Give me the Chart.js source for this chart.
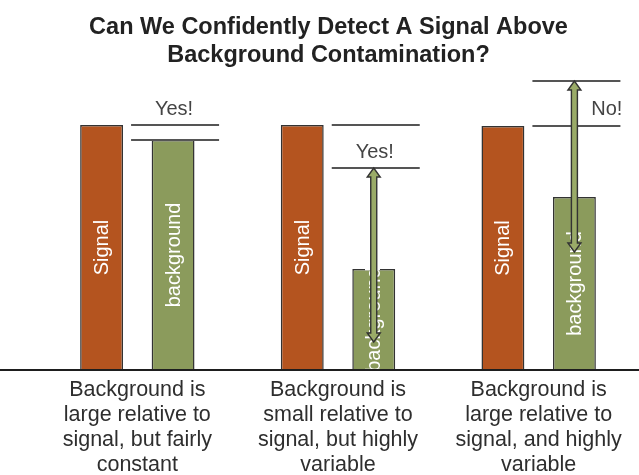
<!DOCTYPE html>
<html>
<head>
<meta charset="utf-8">
<script src="https://cdn.jsdelivr.net/npm/chart.js@4"></script>
<style>
  html, body { margin: 0; padding: 0; background: #fff; }
  #wrap { width: 639px; height: 475px; }
</style>
</head>
<body>
<div id="wrap"><canvas id="chart"></canvas></div>
<script>
// data (units: arbitrary signal level)
const categories = [
  ['Background is', 'large relative to', 'signal, but fairly', 'constant'],
  ['Background is', 'small relative to', 'signal, but highly', 'variable'],
  ['Background is', 'large relative to', 'signal, and highly', 'variable']
];
const signal = [245, 245, 244];
const background = [230, 101, 173];
const bgLow = [null, 28, 118];    // bottom of background variability
const bgHigh = [null, 202, 289];  // top of background variability
const verdicts = ['Yes!', 'Yes!', 'No!'];
const titleLines = ['Can We Confidently Detect A Signal Above', 'Background Contamination?'];

const FONT = '"Liberation Sans", Arial, sans-serif';

function drawArrow(ctx, x, yTop, yBot) {
  const hw = 6.5, sw = 3, hl = 9;
  ctx.beginPath();
  ctx.moveTo(x, yTop);
  ctx.lineTo(x + hw, yTop + hl);
  ctx.lineTo(x + sw, yTop + hl);
  ctx.lineTo(x + sw, yBot - hl);
  ctx.lineTo(x + hw, yBot - hl);
  ctx.lineTo(x, yBot);
  ctx.lineTo(x - hw, yBot - hl);
  ctx.lineTo(x - sw, yBot - hl);
  ctx.lineTo(x - sw, yTop + hl);
  ctx.lineTo(x - hw, yTop + hl);
  ctx.closePath();
  ctx.fillStyle = '#9aab68';
  ctx.fill();
  ctx.lineWidth = 1.4;
  ctx.strokeStyle = '#333';
  ctx.stroke();
}

const annotate = {
  id: 'annotate',
  afterDatasetsDraw(chart) {
    const ctx = chart.ctx;
    const ys = chart.scales.y;
    const sigMeta = chart.getDatasetMeta(0);
    const bgMeta = chart.getDatasetMeta(1);

    // rotated names inside the bars
    [sigMeta, bgMeta].forEach((meta, d) => {
      meta.data.forEach(bar => {
        const p = bar.getProps(['x', 'y', 'base', 'width'], true);
        ctx.save();
        ctx.beginPath();
        ctx.rect(p.x - p.width / 2, p.y, p.width, p.base - p.y);
        ctx.clip();
        ctx.translate(p.x, (p.y + p.base) / 2);
        ctx.rotate(-Math.PI / 2);
        ctx.fillStyle = '#fff';
        ctx.font = '20px ' + FONT;
        ctx.textAlign = 'center';
        ctx.textBaseline = 'middle';
        ctx.fillText(chart.data.datasets[d].label, 0, 1);
        ctx.restore();
      });
    });

    ctx.save();
    bgMeta.data.forEach((bar, i) => {
      const bx = bar.x;
      const top = bgHigh[i] !== null ? bgHigh[i] : background[i];
      const lines = [signal[i], top].map(v => ys.getPixelForValue(v));

      ctx.strokeStyle = '#555';
      ctx.lineWidth = 2;
      lines.forEach(py => {
        ctx.beginPath();
        ctx.moveTo(bx - 42, py);
        ctx.lineTo(bx + 46, py);
        ctx.stroke();
      });

      if (bgLow[i] !== null) {
        drawArrow(ctx, bx, ys.getPixelForValue(bgHigh[i]), ys.getPixelForValue(bgLow[i]));
      }

      const hi = Math.min(...lines), lo = Math.max(...lines);
      const ty = lo - hi < 30 ? hi - 16 : (hi + lo) / 2 + 6;
      const crosses = bgLow[i] !== null && ys.getPixelForValue(bgHigh[i]) < ty;
      ctx.font = '20px ' + FONT;
      ctx.fillStyle = '#444';
      ctx.textBaseline = 'middle';
      if (crosses) {
        ctx.textAlign = 'right';
        ctx.fillText(verdicts[i], bx + 48, ty);
      } else {
        ctx.textAlign = 'center';
        ctx.fillText(verdicts[i], bx + 1, ty);
      }
    });
    ctx.restore();
  },
  afterDraw(chart) {
    const ctx = chart.ctx;
    const y0 = chart.scales.y.getPixelForValue(0);
    ctx.save();
    ctx.strokeStyle = '#1e1e1e';
    ctx.lineWidth = 2.2;
    ctx.beginPath();
    ctx.moveTo(0, y0);
    ctx.lineTo(chart.width, y0);
    ctx.stroke();
    ctx.restore();
  }
};

new Chart(document.getElementById('chart'), {
  type: 'bar',
  data: {
    labels: categories,
    datasets: [{
      label: 'Signal',
      data: signal,
      backgroundColor: '#b4541f',
      borderColor: '#333',
      borderWidth: 1.5,
      categoryPercentage: 0.7125,
      barPercentage: 0.6
    }, {
      label: 'background',
      data: background,
      backgroundColor: '#8b9b5c',
      borderColor: '#333',
      borderWidth: 1.5,
      categoryPercentage: 0.7125,
      barPercentage: 0.6
    }]
  },
  options: {
    responsive: true,
    maintainAspectRatio: false,
    animation: false,
    devicePixelRatio: 1,
    layout: { padding: { left: 18, right: 0, top: 0, bottom: 0 } },
    plugins: {
      legend: { display: false },
      tooltip: { enabled: false },
      title: {
        display: true,
        text: titleLines,
        color: '#222',
        font: { family: FONT, size: 23.5, weight: 'bold', lineHeight: '28px' },
        padding: { top: 14, bottom: 0 }
      }
    },
    scales: {
      x: {
        offset: true,
        grid: { display: false },
        border: { display: false },
        ticks: {
          color: '#2e2e2e',
          font: { family: FONT, size: 21.5, lineHeight: '25px' },
          padding: 0,
          maxRotation: 0,
          autoSkip: false
        },
        afterFit(scale) { scale.height = 105; }
      },
      y: {
        min: 0,
        max: 300,
        grid: { display: false },
        border: { display: false },
        ticks: { display: false },
        afterFit(scale) { scale.width = 19; }
      }
    }
  },
  plugins: [annotate]
});
</script>
</body>
</html>
